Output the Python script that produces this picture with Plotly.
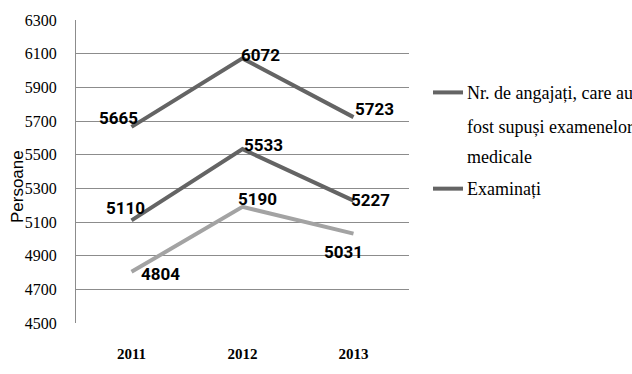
import plotly.graph_objects as go

years = ["2011", "2012", "2013"]
series_top = [5665, 6072, 5723]
series_mid = [5110, 5533, 5227]
series_low = [4804, 5190, 5031]
legend_lines_1 = ["Nr. de angajați, care au", "fost supuși examenelor", "medicale"]
legend_lines_2 = ["Examinați"]
y_title = "Persoane"
y_ticks = [4500, 4700, 4900, 5100, 5300, 5500, 5700, 5900, 6100, 6300]

DARK = "#646464"
LIGHT = "#a3a3a3"
GRID = "#8c8c8c"
LABEL_FONT = dict(family="Roboto", size=17, color="#000000", weight="bold")
SERIF = "Liberation Serif"

fig = go.Figure()
for vals, col in [(series_top, DARK), (series_mid, DARK), (series_low, LIGHT)]:
    fig.add_trace(go.Scatter(x=years, y=vals, mode="lines",
                             line=dict(color=col, width=4), showlegend=False,
                             hoverinfo="skip"))

offsets = [
    [(-13, -9), (18, -3), (21, -8)],
    [(-6, -12), (21, -4), (17, -1)],
    [(29, 2), (15, -8), (-10, 18)],
]
for vals, offs in zip([series_top, series_mid, series_low], offsets):
    for i, (v, (dx, dy)) in enumerate(zip(vals, offs)):
        fig.add_annotation(x=i, y=v, text=str(v), showarrow=False,
                           xshift=dx, yshift=-dy, font=LABEL_FONT)

fig.add_annotation(xref="paper", yref="paper", x=-0.176, y=0.45, text=y_title,
                   textangle=-90, showarrow=False, xanchor="center", yanchor="middle",
                   font=dict(family="Liberation Sans", size=17, color="#000"))

plot_h = 318.0
def py(p):
    return (336 - p) / plot_h

legend_font = dict(family=SERIF, size=18, color="#000")
for txt, yp in zip(legend_lines_1 + legend_lines_2, [95, 130, 162, 195]):
    fig.add_annotation(xref="paper", yref="paper", x=(465 - 76) / 333.0, y=py(yp),
                       xanchor="left", yanchor="middle", text=txt, showarrow=False,
                       font=legend_font)
for yp in [94, 195]:
    fig.add_shape(type="line", xref="paper", yref="paper",
                  x0=(433 - 76) / 333.0, x1=(463 - 76) / 333.0, y0=py(yp), y1=py(yp),
                  line=dict(color=DARK, width=4))

fig.update_layout(
    width=632, height=374,
    margin=dict(l=76, r=223, t=18, b=38),
    paper_bgcolor="white", plot_bgcolor="white",
    showlegend=False,
)
fig.update_xaxes(type="category", range=[-0.5, 2.5], showgrid=False,
                 showline=False, zeroline=False,
                 tickfont=dict(family=SERIF, size=15, color="#000", weight="bold"),
                 ticks="", ticklabelstandoff=20)
fig.update_yaxes(range=[4500, 6300], tickvals=y_ticks, showgrid=True, gridcolor=GRID,
                 gridwidth=1, showline=True, linecolor=GRID, linewidth=1,
                 zeroline=False, ticks="", ticklabelstandoff=15,
                 tickfont=dict(family=SERIF, size=16, color="#000"))

fig.write_html("out.html")
